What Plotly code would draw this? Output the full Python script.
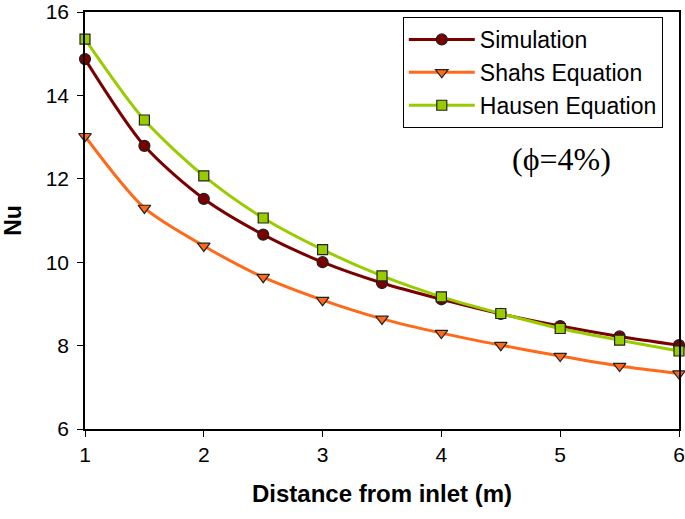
import plotly.graph_objects as go

x = [1, 1.5, 2, 2.5, 3, 3.5, 4, 4.5, 5, 5.5, 6]
simulation = [14.87, 12.79, 11.52, 10.66, 10.0, 9.5, 9.11, 8.76, 8.47, 8.22, 8.01]
shahs = [13.02, 11.3, 10.39, 9.64, 9.09, 8.64, 8.3, 8.01, 7.75, 7.51, 7.33]
hausen = [15.35, 13.41, 12.07, 11.06, 10.3, 9.67, 9.17, 8.77, 8.41, 8.13, 7.87]

series = [
    ("Simulation", simulation, "#7A0000", "#7A0000", "circle", 11),
    ("Shahs Equation", shahs, "#FF6A1A", "#FF6A1A", "triangle-down", 11),
    ("Hausen Equation", hausen, "#99CC00", "#99CC00", "square", 10),
]

fig = go.Figure()
for name, y, lc, mc, sym, sz in series:
    fig.add_trace(go.Scatter(
        x=x, y=y, name=name, mode="lines+markers", cliponaxis=False,
        line=dict(color=lc, width=3, shape="spline", smoothing=0.8),
        marker=dict(symbol=sym, size=sz, color=mc, line=dict(color="#222222", width=1.2)),
    ))

axis_font = dict(family="Liberation Sans, Arial", size=21, color="black")
fig.update_layout(
    width=685, height=519,
    margin=dict(l=85, r=6, t=12, b=90, autoexpand=False),
    paper_bgcolor="white", plot_bgcolor="white",
    font=dict(family="Liberation Sans, Arial", size=21, color="black"),
    showlegend=True,
    legend=dict(
        x=0.535, y=0.988, xanchor="left", yanchor="top",
        bgcolor="white", bordercolor="black", borderwidth=1,
        font=dict(family="Liberation Sans, Arial", size=23, color="black"),
        itemwidth=66, tracegroupgap=0,
    ),
    xaxis=dict(
        range=[1, 6], tickvals=[1, 2, 3, 4, 5, 6], showgrid=False, zeroline=False,
        showline=True, linecolor="black", linewidth=1.5, mirror=True,
        ticks="outside", ticklen=6, tickcolor="black", tickfont=axis_font,
        ticklabeloverflow="allow", automargin=False,
        title=dict(text="<b>Distance from inlet (m)</b>", font=dict(family="Liberation Sans, Arial", size=24), standoff=20),
    ),
    yaxis=dict(
        range=[6, 16], tickvals=[6, 8, 10, 12, 14, 16], showgrid=False, zeroline=False,
        showline=True, linecolor="black", linewidth=1.5, mirror=True,
        ticks="outside", ticklen=6, tickcolor="black", tickfont=axis_font,
        ticklabeloverflow="allow", automargin=False, ticklabelstandoff=4,
        title=dict(text="<b>Nu</b>", font=dict(family="Liberation Sans, Arial", size=23), standoff=23),
    ),
)
fig.add_annotation(
    x=0.803, y=0.647, xref="paper", yref="paper", xanchor="center", yanchor="middle",
    text="(ϕ=4%)", showarrow=False,
    font=dict(family="Liberation Serif, Times New Roman", size=32, color="black"),
)
fig.write_html("out.html", config={"displayModeBar": False},
               post_script="document.body.style.margin='0';")
